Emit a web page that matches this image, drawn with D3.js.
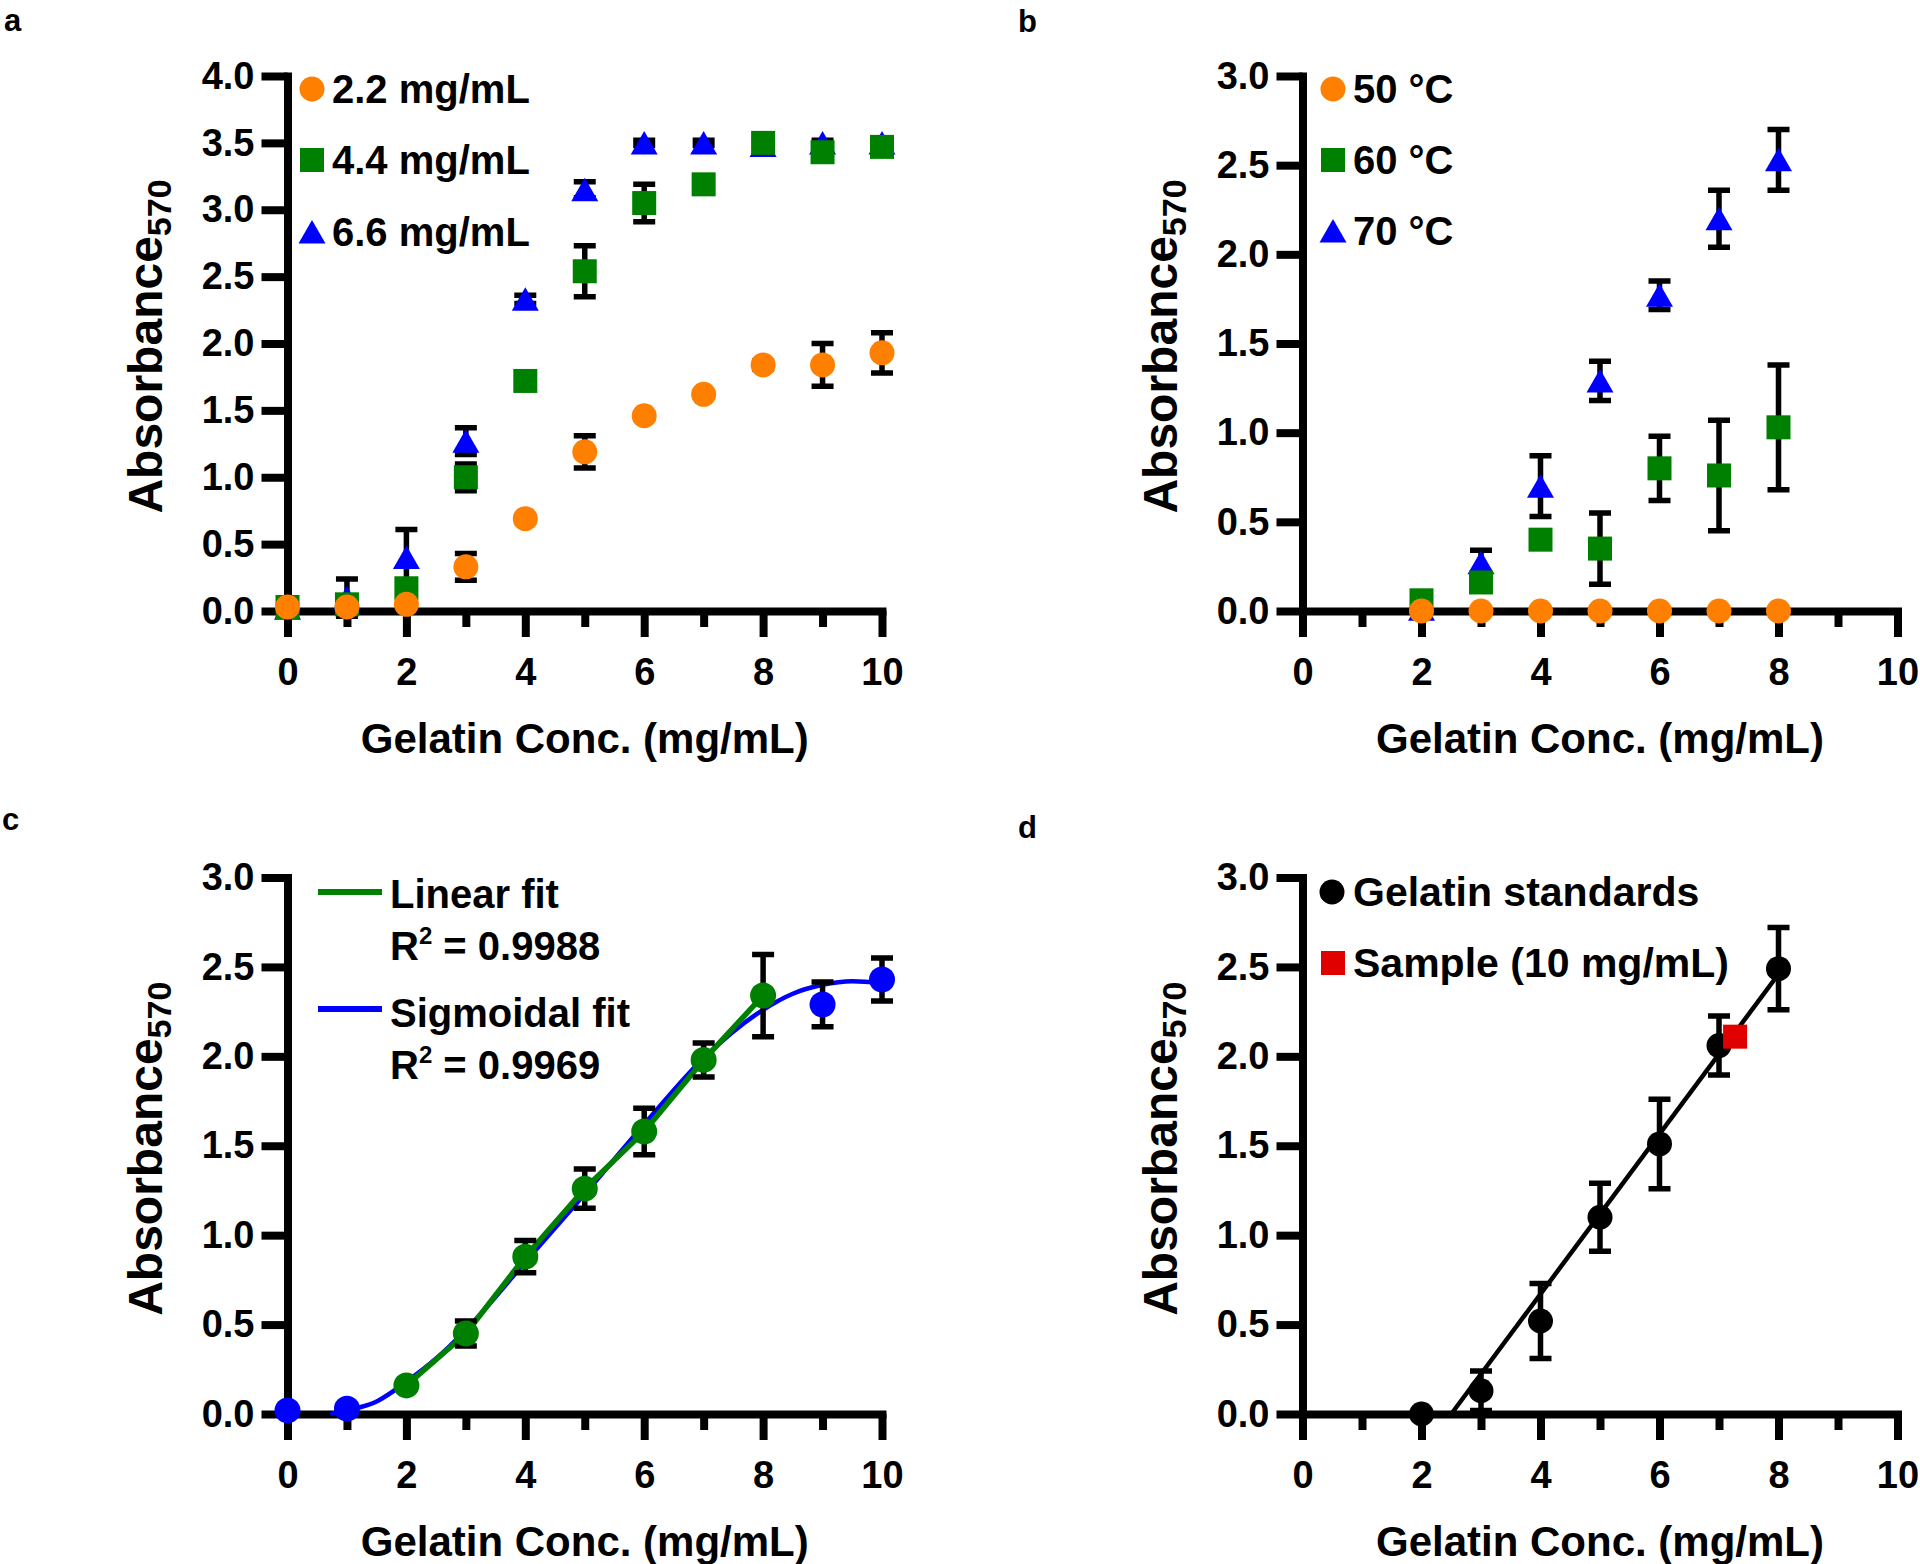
<!DOCTYPE html>
<html>
<head>
<meta charset="utf-8">
<script src="https://cdn.jsdelivr.net/npm/d3@7"></script>
<style>
  body { margin: 0; background: #fff; }
  svg { display: block; }
  text { font-family: "Liberation Sans", Arial, Helvetica, sans-serif; font-weight: bold; fill: #000; }
</style>
</head>
<body>
<svg id="chart" width="1920" height="1564"></svg>
<script>
// ---------------- DATA ----------------
const xTickValues = [0, 1, 2, 3, 4, 5, 6, 7, 8, 9, 10];
const xLabelValues = [0, 2, 4, 6, 8, 10];
const yTicks4 = [0, 0.5, 1, 1.5, 2, 2.5, 3, 3.5, 4];
const yTicks3 = [0, 0.5, 1, 1.5, 2, 2.5, 3];
const xTitle = "Gelatin Conc. (mg/mL)";
const yTitleMain = "Absorbance";
const yTitleSub = "570";
const panelLetters = ["a", "b", "c", "d"];

// Panel a : gelatin-dye concentration series
const aConc = [0, 1, 2, 3, 4, 5, 6, 7, 8, 9, 10];
const aLabels = ["2.2 mg/mL", "4.4 mg/mL", "6.6 mg/mL"];
const a22 = [0.03, 0.03, 0.05, 0.33, 0.69, 1.19, 1.46, 1.62, 1.84, 1.84, 1.93];
const a22Err = [0.02, 0.02, 0.02, 0.10, 0.02, 0.12, 0.02, 0.02, 0.03, 0.16, 0.15];
const a44 = [0.03, 0.05, 0.17, 1.00, 1.72, 2.54, 3.05, 3.19, 3.50, 3.43, 3.47];
const a44Err = [0.02, 0.03, 0.05, 0.10, 0.03, 0.19, 0.14, 0.03, 0.02, 0.03, 0.03];
const a66 = [0.02, 0.10, 0.40, 1.27, 2.33, 3.15, 3.50, 3.50, 3.48, 3.50, 3.50];
const a66Err = [0.02, 0.14, 0.21, 0.10, 0.03, 0.06, 0.02, 0.02, 0.02, 0.02, 0.02];

// Panel b : temperature series
const bConc = [2, 3, 4, 5, 6, 7, 8];
const bLabels = ["50 °C", "60 °C", "70 °C"];
const b50 = [0, 0, 0, 0, 0, 0, 0];
const b50Err = [0.01, 0.01, 0.01, 0.01, 0.01, 0.01, 0.01];
const b60 = [0.06, 0.16, 0.40, 0.35, 0.80, 0.76, 1.03];
const b60Err = [0.02, 0.03, 0.03, 0.20, 0.18, 0.31, 0.35];
const b70 = [0.01, 0.27, 0.70, 1.29, 1.77, 2.20, 2.53];
const b70Err = [0.01, 0.07, 0.17, 0.11, 0.08, 0.16, 0.17];

// Panel c : fits
const cBlueConc = [0, 1, 9, 10];
const cBlue = [0.02, 0.03, 2.29, 2.43];
const cBlueErr = [0.01, 0.01, 0.125, 0.12];
const cGreenConc = [2, 3, 4, 5, 6, 7, 8];
const cGreen = [0.16, 0.45, 0.88, 1.26, 1.58, 1.98, 2.34];
const cGreenErr = [0.02, 0.07, 0.09, 0.11, 0.13, 0.095, 0.23];
const cSigX = [0.72, 1, 1.5, 2, 2.5, 3, 4, 5, 6, 7, 8, 8.5, 9, 9.5, 10];
const cSigY = [0.00, 0.02, 0.07, 0.18, 0.31, 0.47, 0.85, 1.23, 1.62, 1.99, 2.26, 2.35, 2.40, 2.42, 2.41];
const cLegend = [["Linear fit", "0.9988"], ["Sigmoidal fit", "0.9969"]];

// Panel d : standard curve
const dConc = [2, 3, 4, 5, 6, 7, 8];
const dStd = [0.00, 0.13, 0.52, 1.10, 1.51, 2.06, 2.49];
const dStdErr = [0.01, 0.11, 0.21, 0.19, 0.25, 0.165, 0.23];
const dSampleConc = [7.27];
const dSample = [2.11];
const dFitX = [2.5, 8.0];
const dFitY = [0.0, 2.46];
const dLabels = ["Gelatin standards", "Sample (10 mg/mL)"];

// ---------------- STYLE ----------------
const C = { orange: "#ff8000", green: "#008000", blue: "#0000ff", red: "#e00000", black: "#000000" };

const svg = d3.select("#chart");

function makePanel(cfg) {
  const g = svg.append("g");
  const x = d3.scaleLinear().domain([0, 10]).range([cfg.x0, cfg.x1]);
  const y = d3.scaleLinear().domain([0, cfg.ymax]).range([cfg.yBot, cfg.yTop]);

  // y axis
  const ya = d3.axisLeft(y).tickValues(cfg.yTicks).tickSize(26).tickSizeOuter(0)
    .tickPadding(7).tickFormat(d3.format(".1f"));
  const gy = g.append("g").attr("transform", `translate(${cfg.x0},0)`).call(ya)
    .attr("font-size", null).attr("font-family", null);
  gy.select(".domain").attr("stroke-width", 8).attr("stroke-linecap", "square");
  gy.selectAll(".tick line").attr("stroke-width", 8);
  gy.selectAll(".tick text").attr("font-size", 38);

  // x axis
  const xa = d3.axisBottom(x).tickValues(xTickValues).tickSize(26).tickSizeOuter(0)
    .tickFormat(d => xLabelValues.includes(d) ? d : "");
  const gx = g.append("g").attr("transform", `translate(0,${cfg.yBot})`).call(xa)
    .attr("font-size", null).attr("font-family", null);
  gx.select(".domain").attr("stroke-width", 8).attr("stroke-linecap", "square");
  gx.selectAll(".tick line").attr("stroke-width", 8)
    .attr("y2", d => xLabelValues.includes(d) ? 26 : 16);
  gx.selectAll(".tick text").attr("font-size", 38).attr("y", 74).attr("dy", null);

  // titles
  g.append("text").attr("x", (cfg.x0 + cfg.x1) / 2).attr("y", cfg.yBot + 142)
    .attr("text-anchor", "middle").attr("font-size", 42).text(xTitle);
  const yt = g.append("text")
    .attr("transform", `translate(${cfg.yTitleX},${(cfg.yTop + cfg.yBot) / 2 + 3}) rotate(-90)`)
    .attr("text-anchor", "middle").attr("font-size", 48);
  yt.append("tspan").text(yTitleMain);
  yt.append("tspan").attr("font-size", 34).attr("dy", 9).text(yTitleSub);

  g.append("text").attr("x", cfg.letterX).attr("y", cfg.letterY)
    .attr("font-size", 31).text(cfg.letter);

  const marks = g.append("g");
  return { g: marks, x, y };
}

function errorBars(p, xs, ys, es) {
  p.g.append("g").selectAll("path").data(d3.zip(xs, ys, es)).join("path")
    .attr("fill", "none").attr("stroke", C.black).attr("stroke-width", 5.5)
    .attr("d", d => {
      const cx = p.x(d[0]), t = p.y(d[1] + d[2]), b = p.y(d[1] - d[2]);
      return `M${cx - 11},${t}H${cx + 11}M${cx},${t}V${b}M${cx - 11},${b}H${cx + 11}`;
    });
}

const triPath = "M0,-12L13.5,11.5L-13.5,11.5Z";

function markers(p, xs, ys, shape, color, r) {
  const data = d3.zip(xs, ys);
  const sel = p.g.append("g");
  if (shape === "circle") {
    sel.selectAll("circle").data(data).join("circle")
      .attr("cx", d => p.x(d[0])).attr("cy", d => p.y(d[1])).attr("r", r || 12.5).attr("fill", color);
  } else if (shape === "square") {
    sel.selectAll("rect").data(data).join("rect")
      .attr("x", d => p.x(d[0]) - 12).attr("y", d => p.y(d[1]) - 12)
      .attr("width", 24).attr("height", 24).attr("fill", color);
  } else {
    sel.selectAll("path").data(data).join("path")
      .attr("transform", d => `translate(${p.x(d[0])},${p.y(d[1])})`)
      .attr("d", triPath).attr("fill", color);
  }
}

function legendMarker(g, shape, color, cx, cy) {
  if (shape === "circle") g.append("circle").attr("cx", cx).attr("cy", cy).attr("r", 12.5).attr("fill", color);
  else if (shape === "square") g.append("rect").attr("x", cx - 12).attr("y", cy - 12).attr("width", 24).attr("height", 24).attr("fill", color);
  else g.append("path").attr("transform", `translate(${cx},${cy})`).attr("d", triPath).attr("fill", color);
}

// ---------------- PANEL A ----------------
const pa = makePanel({ x0: 287.5, x1: 882, yTop: 76, yBot: 611, ymax: 4, yTicks: yTicks4,
  yTitleX: 162, letter: panelLetters[0], letterX: 4, letterY: 31 });
errorBars(pa, aConc, a66, a66Err);
errorBars(pa, aConc, a44, a44Err);
errorBars(pa, aConc, a22, a22Err);
markers(pa, aConc, a66, "triangle", C.blue);
markers(pa, aConc, a44, "square", C.green);
markers(pa, aConc, a22, "circle", C.orange);
{
  const shapes = ["circle", "square", "triangle"], cols = [C.orange, C.green, C.blue], rows = [89, 160, 232];
  aLabels.forEach((lab, i) => {
    legendMarker(svg, shapes[i], cols[i], 312, rows[i]);
    svg.append("text").attr("x", 332).attr("y", rows[i] + 14).attr("font-size", 40).text(lab);
  });
}

// ---------------- PANEL B ----------------
const pb = makePanel({ x0: 1302.5, x1: 1897.5, yTop: 76, yBot: 611, ymax: 3, yTicks: yTicks3,
  yTitleX: 1177, letter: panelLetters[1], letterX: 1018, letterY: 32 });
errorBars(pb, bConc, b70, b70Err);
errorBars(pb, bConc, b60, b60Err);
errorBars(pb, bConc, b50, b50Err);
markers(pb, bConc, b70, "triangle", C.blue);
markers(pb, bConc, b60, "square", C.green);
markers(pb, bConc, b50, "circle", C.orange);
{
  const shapes = ["circle", "square", "triangle"], cols = [C.orange, C.green, C.blue], rows = [89, 160, 231];
  bLabels.forEach((lab, i) => {
    legendMarker(svg, shapes[i], cols[i], 1333, rows[i]);
    svg.append("text").attr("x", 1353).attr("y", rows[i] + 14).attr("font-size", 40).text(lab);
  });
}

// ---------------- PANEL C ----------------
const pc = makePanel({ x0: 287.5, x1: 882, yTop: 877.5, yBot: 1414, ymax: 3, yTicks: yTicks3,
  yTitleX: 162, letter: panelLetters[2], letterX: 2, letterY: 830 });
pc.g.append("path").datum(d3.zip(cSigX, cSigY))
  .attr("fill", "none").attr("stroke", C.blue).attr("stroke-width", 4.5)
  .attr("d", d3.line().x(d => pc.x(d[0])).y(d => pc.y(d[1])).curve(d3.curveMonotoneX));
pc.g.append("path").datum(d3.zip(cGreenConc, cGreen))
  .attr("fill", "none").attr("stroke", C.green).attr("stroke-width", 5.5)
  .attr("d", d3.line().x(d => pc.x(d[0])).y(d => pc.y(d[1])));
errorBars(pc, cGreenConc, cGreen, cGreenErr);
errorBars(pc, cBlueConc, cBlue, cBlueErr);
markers(pc, cBlueConc, cBlue, "circle", C.blue, 13);
markers(pc, cGreenConc, cGreen, "circle", C.green, 13);
{
  const cols = [C.green, C.blue], lineY = [892, 1009], base1 = [908, 1027], base2 = [960, 1079];
  cLegend.forEach((row, i) => {
    svg.append("line").attr("x1", 318).attr("x2", 382).attr("y1", lineY[i]).attr("y2", lineY[i])
      .attr("stroke", cols[i]).attr("stroke-width", 6);
    svg.append("text").attr("x", 390).attr("y", base1[i]).attr("font-size", 40).text(row[0]);
    const t = svg.append("text").attr("x", 390).attr("y", base2[i]).attr("font-size", 40);
    t.append("tspan").text("R");
    t.append("tspan").attr("font-size", 24).attr("dy", -16).text("2");
    t.append("tspan").attr("dy", 16).text(" = " + row[1]);
  });
}

// ---------------- PANEL D ----------------
const pd = makePanel({ x0: 1302.5, x1: 1897.5, yTop: 877.5, yBot: 1414, ymax: 3, yTicks: yTicks3,
  yTitleX: 1177, letter: panelLetters[3], letterX: 1018, letterY: 838 });
pd.g.append("path").datum(d3.zip(dFitX, dFitY))
  .attr("fill", "none").attr("stroke", C.black).attr("stroke-width", 4.5)
  .attr("d", d3.line().x(d => pd.x(d[0])).y(d => pd.y(d[1])));
errorBars(pd, dConc, dStd, dStdErr);
markers(pd, dConc, dStd, "circle", C.black);
markers(pd, dSampleConc, dSample, "square", C.red);
{
  legendMarker(svg, "circle", C.black, 1332, 892);
  svg.append("text").attr("x", 1353).attr("y", 906).attr("font-size", 41).text(dLabels[0]);
  legendMarker(svg, "square", C.red, 1333, 963);
  svg.append("text").attr("x", 1353).attr("y", 977).attr("font-size", 41).text(dLabels[1]);
}
</script>
</body>
</html>
